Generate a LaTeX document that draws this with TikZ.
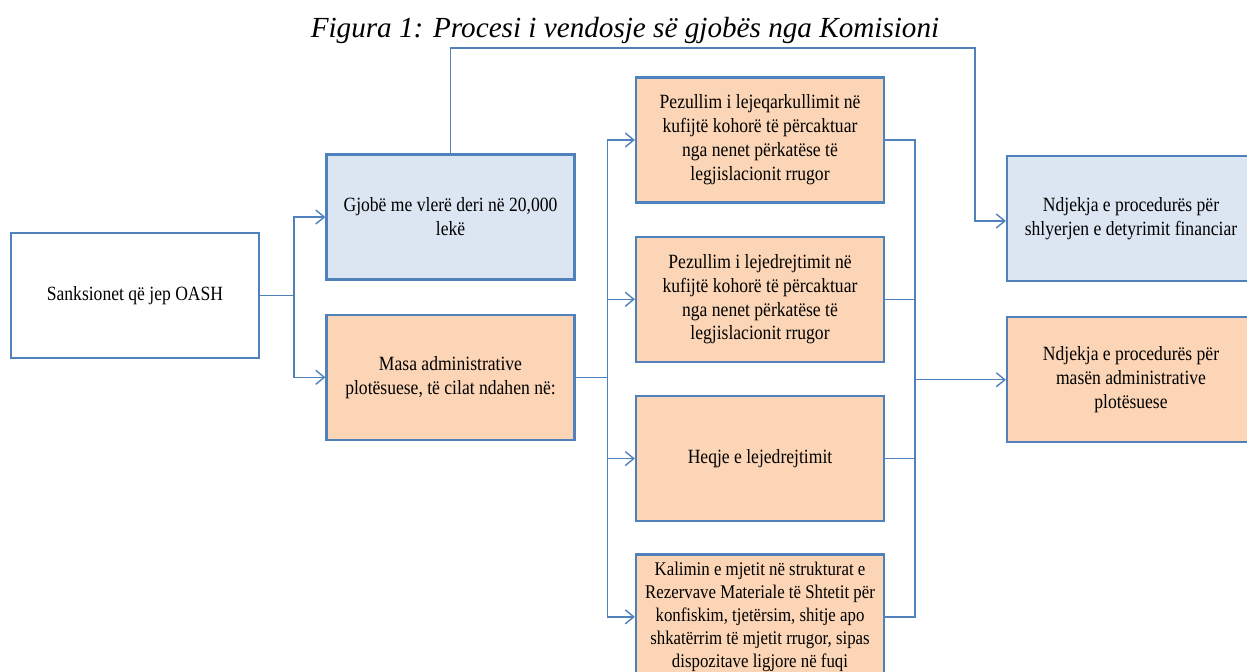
\documentclass[tikz,border=0pt]{standalone}
\usepackage{fontspec}
\setmainfont{Liberation Serif}
\newfontfamily\boxfont[FakeStretch=0.87]{Liberation Serif}
\usepackage{xcolor}
\usepackage{tikz}
\usetikzlibrary{arrows.meta,positioning}
\definecolor{frameblue}{HTML}{4F81BD}
\definecolor{fillblue}{HTML}{DCE6F2}
\definecolor{fillorange}{HTML}{FBD5B5}

\begin{document}
\begin{tikzpicture}[
  >={Straight Barb[length=1.7mm,width=2.8mm]},
  node distance=0.64cm and 1.36cm,
  every node/.style={font=\boxfont\fontsize{11.5}{13.6}\selectfont},
  box/.style={draw=frameblue, line width=1.3pt, minimum width=4.96cm,
    minimum height=2.5cm, align=center},
  sanction/.style={box, fill=white},
  fine/.style={box, fill=fillblue},
  measure/.style={box, fill=fillorange},
  link/.style={->, frameblue, line width=0.8pt},
  joint/.style={frameblue, line width=0.8pt},
]
\useasboundingbox (0,0) rectangle (24.94,-13.42);
\clip (0,0) rectangle (24.94,-13.42);
\node[font=\itshape\fontsize{16.6}{18}\selectfont] (title) at (12.5,-0.6)
  {Figura 1: Procesi i vendosje së gjobës nga Komisioni};
\node[sanction] (oash) at (2.70,-5.91) {Sanksionet që jep OASH};
\node[fine] (gjobe) at (9.01,-4.34) {Gjobë me vlerë deri në 20,000\\lekë};
\node[measure, below=0.66cm of gjobe] (masa) {Masa administrative\\plotësuese, të cilat ndahen në:};
\node[measure] (pq) at (15.20,-2.80) {Pezullim i lejeqarkullimit në\\kufijtë kohorë të përcaktuar\\nga nenet përkatëse të\\legjislacionit rrugor};
\node[measure, below=of pq] (pd) {Pezullim i lejedrejtimit në\\kufijtë kohorë të përcaktuar\\nga nenet përkatëse të\\legjislacionit rrugor};
\node[measure, below=of pd] (hq) {Heqje e lejedrejtimit};
\node[measure, below=0.62cm of hq, font=\boxfont\fontsize{11}{13.2}\selectfont] (km) {Kalimin e mjetit në strukturat e\\Rezervave Materiale të Shtetit për\\konfiskim, tjetërsim, shitje apo\\shkatërrim të mjetit rrugor, sipas\\dispozitave ligjore në fuqi};
\node[fine] (nds) at (22.62,-4.37) {Ndjekja e procedurës për\\shlyerjen e detyrimit financiar};
\node[measure, below=0.68cm of nds] (ndm) {Ndjekja e procedurës për\\masën administrative\\plotësuese};
\draw[joint] (oash.east) -- ++(0.68,0) coordinate (forkA);
\draw[link] (forkA) |- (gjobe.west);
\draw[link] (forkA) |- (masa.west);
\draw[joint] (masa.east) -- ++(0.64,0) coordinate (forkB);
\foreach \n in {pq,pd,hq,km}
  \draw[link] (forkB) |- (\n.west);
\path (ndm.west) -- ++(-1.82,0) coordinate (mergeC);
\foreach \n in {pq,pd,hq,km}
  \draw[joint] (\n.east) -| (mergeC);
\draw[link] (mergeC) -- (ndm.west);
\coordinate (topC) at (19.5,-0.96);
\draw[link] (gjobe.north) |- (topC) |- ([yshift=-0.05cm]nds.west);
\end{tikzpicture}
\end{document}
